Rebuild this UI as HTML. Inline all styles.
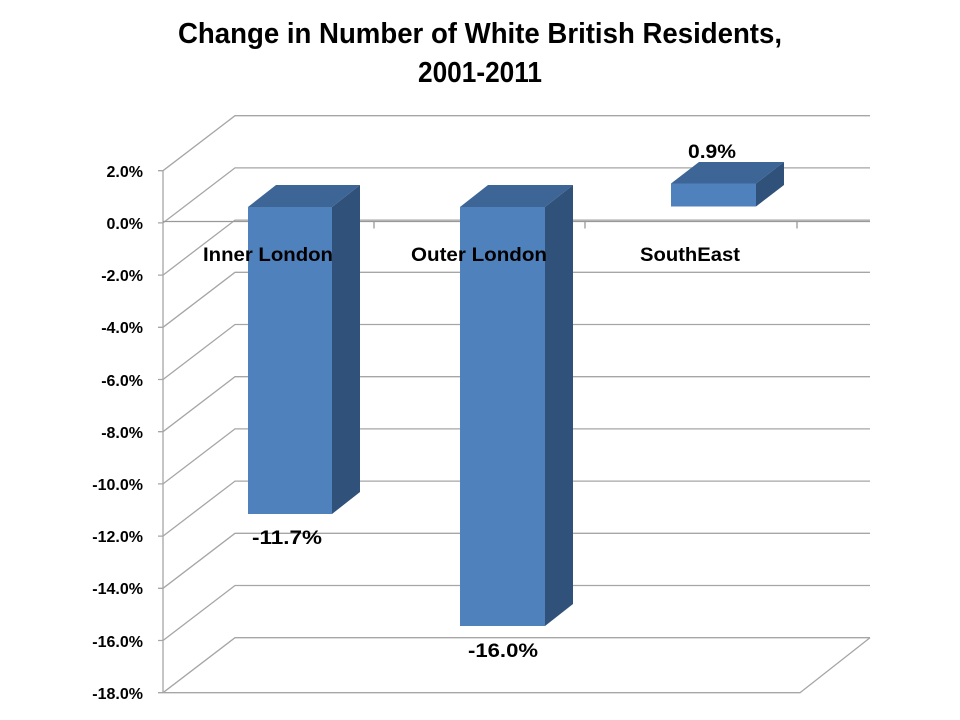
<!DOCTYPE html>
<html><head><meta charset="utf-8"><style>
html,body{margin:0;padding:0;background:#fff;}
svg{display:block;}
text{font-family:"Liberation Sans",sans-serif;font-weight:bold;fill:#000;}
</style></head><body>
<svg width="960" height="720" viewBox="0 0 960 720">
<text x="480" y="43" font-size="29" text-anchor="middle" textLength="604" lengthAdjust="spacingAndGlyphs">Change in Number of White British Residents,</text>
<text x="480" y="82" font-size="29" text-anchor="middle" textLength="124" lengthAdjust="spacingAndGlyphs">2001-2011</text>
<g stroke="#a6a6a6" stroke-width="1.3" fill="none">
<path d="M163,170.7L235,115.7H870M163,222.9L235,167.9H870M163,275.1L235,220.1H870M163,327.3L235,272.3H870M163,379.5L235,324.5H870M163,431.7L235,376.7H870M163,483.9L235,428.9H870M163,536.1L235,481.1H870M163,588.3L235,533.3H870M163,640.5L235,585.5H870M163,692.7L235,637.7H870M163,692.7H800L870,637.7"/>
<path d="M163,170.7V692.7"/>
<path d="M158,170.7h5M158,222.9h5M158,275.1h5M158,327.3h5M158,379.5h5M158,431.7h5M158,483.9h5M158,536.1h5M158,588.3h5M158,640.5h5M158,692.7h5"/>
<path d="M163,221.5H870M374,221.5v7M585,221.5v7M797,221.5v7" stroke="#999"/>
</g>
<g>
<polygon points="248,207 276,185 360,185 332,207" fill="#3d6596"/>
<polygon points="332,207 360,185 360,492 332,514" fill="#30517a"/>
<rect x="248" y="207" width="84" height="307" fill="#4f81bd"/>
<polygon points="460,207 488,185 573,185 545,207" fill="#3d6596"/>
<polygon points="545,207 573,185 573,604 545,626" fill="#30517a"/>
<rect x="460" y="207" width="85" height="419" fill="#4f81bd"/>
<polygon points="671,183.5 699,162 784,162 756,183.5" fill="#3d6596"/>
<polygon points="756,183.5 784,162 784,185 756,206.5" fill="#30517a"/>
<rect x="671" y="183.5" width="85" height="23" fill="#4f81bd"/>
</g>
<g font-size="19" text-anchor="middle">
<text x="268" y="261" textLength="130" lengthAdjust="spacingAndGlyphs">Inner London</text>
<text x="479" y="261" textLength="136" lengthAdjust="spacingAndGlyphs">Outer London</text>
<text x="690" y="261" textLength="100" lengthAdjust="spacingAndGlyphs">SouthEast</text>
<text x="287" y="544" textLength="70" lengthAdjust="spacingAndGlyphs">-11.7%</text>
<text x="503" y="657" textLength="70" lengthAdjust="spacingAndGlyphs">-16.0%</text>
<text x="712" y="158" textLength="48" lengthAdjust="spacingAndGlyphs">0.9%</text>
</g>
<g font-size="16" text-anchor="end">
<text x="143" y="177">2.0%</text>
<text x="143" y="229">0.0%</text>
<text x="143" y="281">-2.0%</text>
<text x="143" y="333">-4.0%</text>
<text x="143" y="386">-6.0%</text>
<text x="143" y="438">-8.0%</text>
<text x="143" y="490">-10.0%</text>
<text x="143" y="542">-12.0%</text>
<text x="143" y="594">-14.0%</text>
<text x="143" y="647">-16.0%</text>
<text x="143" y="699">-18.0%</text>
</g>
</svg>
</body></html>
